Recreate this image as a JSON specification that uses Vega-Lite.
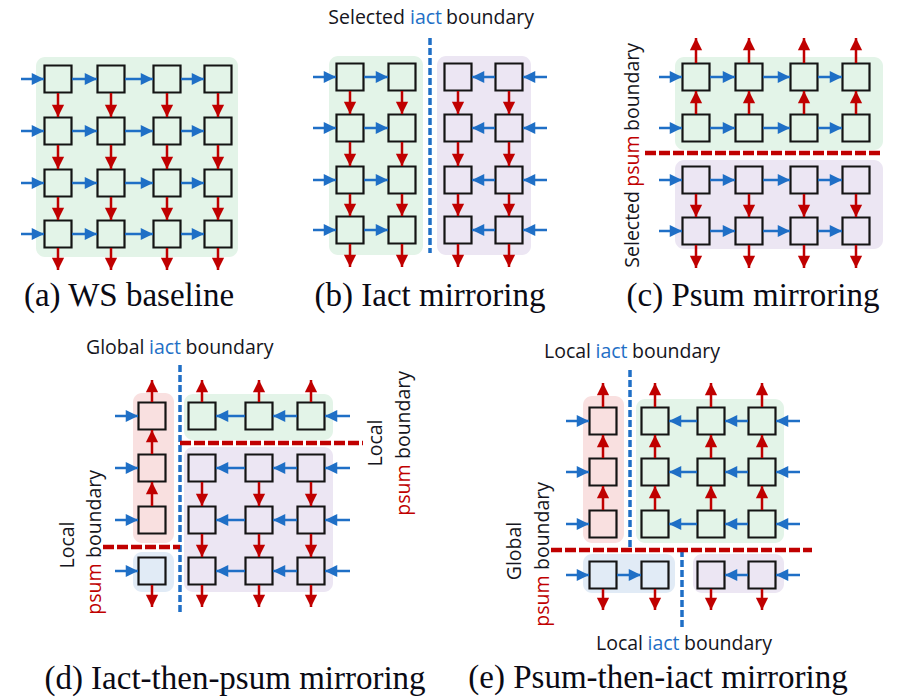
{
  "$schema": "https://vega.github.io/schema/vega-lite/v6.json",
  "width": 906,
  "height": 700,
  "autosize": {"type": "fit", "contains": "padding"},
  "padding": 0,
  "background": "white",
  "config": {"view": {"stroke": null}},
  "datasets": {
    "bg": [
      {"g": "bgG", "x": 36, "x2": 238, "y": 57, "y2": 257},
      {"g": "bgG", "x": 329, "x2": 423, "y": 56, "y2": 255},
      {"g": "bgP", "x": 437, "x2": 531, "y": 56, "y2": 255},
      {"g": "bgG", "x": 675, "x2": 883, "y": 57, "y2": 150},
      {"g": "bgP", "x": 675, "x2": 883, "y": 160, "y2": 249},
      {"g": "bgK", "x": 133, "x2": 174, "y": 393, "y2": 543},
      {"g": "bgB", "x": 133, "x2": 174, "y": 552, "y2": 592},
      {"g": "bgG", "x": 184, "x2": 333, "y": 394, "y2": 440},
      {"g": "bgP", "x": 184, "x2": 333, "y": 447, "y2": 592},
      {"g": "bgK", "x": 583, "x2": 624, "y": 396, "y2": 543},
      {"g": "bgG", "x": 636, "x2": 784, "y": 399, "y2": 543},
      {"g": "bgB", "x": 583, "x2": 675, "y": 554, "y2": 593},
      {"g": "bgP", "x": 693, "x2": 784, "y": 554, "y2": 593}
    ],
    "sq": [
      {"x": 58, "y": 79}, {"x": 111, "y": 79}, {"x": 167, "y": 79}, {"x": 218, "y": 79},
      {"x": 58, "y": 131}, {"x": 111, "y": 131}, {"x": 167, "y": 131}, {"x": 218, "y": 131},
      {"x": 58, "y": 183}, {"x": 111, "y": 183}, {"x": 167, "y": 183}, {"x": 218, "y": 183},
      {"x": 58, "y": 234}, {"x": 111, "y": 234}, {"x": 167, "y": 234}, {"x": 218, "y": 234},
      {"x": 350, "y": 77}, {"x": 402, "y": 77}, {"x": 458, "y": 77}, {"x": 509, "y": 77},
      {"x": 350, "y": 128}, {"x": 402, "y": 128}, {"x": 458, "y": 128}, {"x": 509, "y": 128},
      {"x": 350, "y": 180}, {"x": 402, "y": 180}, {"x": 458, "y": 180}, {"x": 509, "y": 180},
      {"x": 350, "y": 230}, {"x": 402, "y": 230}, {"x": 458, "y": 230}, {"x": 509, "y": 230},
      {"x": 696, "y": 77}, {"x": 749, "y": 77}, {"x": 804, "y": 77}, {"x": 856, "y": 77},
      {"x": 696, "y": 128}, {"x": 749, "y": 128}, {"x": 804, "y": 128}, {"x": 856, "y": 128},
      {"x": 696, "y": 180}, {"x": 749, "y": 180}, {"x": 804, "y": 180}, {"x": 856, "y": 180},
      {"x": 696, "y": 231}, {"x": 749, "y": 231}, {"x": 804, "y": 231}, {"x": 856, "y": 231},
      {"x": 152, "y": 416}, {"x": 202, "y": 416}, {"x": 259, "y": 416}, {"x": 311, "y": 416},
      {"x": 152, "y": 468}, {"x": 202, "y": 468}, {"x": 259, "y": 468}, {"x": 311, "y": 468},
      {"x": 152, "y": 520}, {"x": 202, "y": 520}, {"x": 259, "y": 520}, {"x": 311, "y": 520},
      {"x": 152, "y": 571}, {"x": 202, "y": 571}, {"x": 259, "y": 571}, {"x": 311, "y": 571},
      {"x": 603, "y": 421}, {"x": 655, "y": 421}, {"x": 711, "y": 421}, {"x": 762, "y": 421},
      {"x": 603, "y": 472}, {"x": 655, "y": 472}, {"x": 711, "y": 472}, {"x": 762, "y": 472},
      {"x": 603, "y": 524}, {"x": 655, "y": 524}, {"x": 711, "y": 524}, {"x": 762, "y": 524},
      {"x": 603, "y": 575}, {"x": 655, "y": 575}, {"x": 711, "y": 575}, {"x": 762, "y": 575}
    ],
    "arrows": [
      {"k": "blue", "d": "r", "x": 21, "y": 79, "x2": 44, "y2": 79},
      {"k": "blue", "d": "r", "x": 72, "y": 79, "x2": 97, "y2": 79},
      {"k": "blue", "d": "r", "x": 125, "y": 79, "x2": 153, "y2": 79},
      {"k": "blue", "d": "r", "x": 181, "y": 79, "x2": 204, "y2": 79},
      {"k": "blue", "d": "r", "x": 21, "y": 131, "x2": 44, "y2": 131},
      {"k": "blue", "d": "r", "x": 72, "y": 131, "x2": 97, "y2": 131},
      {"k": "blue", "d": "r", "x": 125, "y": 131, "x2": 153, "y2": 131},
      {"k": "blue", "d": "r", "x": 181, "y": 131, "x2": 204, "y2": 131},
      {"k": "blue", "d": "r", "x": 21, "y": 183, "x2": 44, "y2": 183},
      {"k": "blue", "d": "r", "x": 72, "y": 183, "x2": 97, "y2": 183},
      {"k": "blue", "d": "r", "x": 125, "y": 183, "x2": 153, "y2": 183},
      {"k": "blue", "d": "r", "x": 181, "y": 183, "x2": 204, "y2": 183},
      {"k": "blue", "d": "r", "x": 21, "y": 234, "x2": 44, "y2": 234},
      {"k": "blue", "d": "r", "x": 72, "y": 234, "x2": 97, "y2": 234},
      {"k": "blue", "d": "r", "x": 125, "y": 234, "x2": 153, "y2": 234},
      {"k": "blue", "d": "r", "x": 181, "y": 234, "x2": 204, "y2": 234},
      {"k": "red", "d": "d", "x": 58, "y": 93, "x2": 58, "y2": 117},
      {"k": "red", "d": "d", "x": 58, "y": 145, "x2": 58, "y2": 169},
      {"k": "red", "d": "d", "x": 58, "y": 197, "x2": 58, "y2": 220},
      {"k": "red", "d": "d", "x": 58, "y": 248, "x2": 58, "y2": 270},
      {"k": "red", "d": "d", "x": 111, "y": 93, "x2": 111, "y2": 117},
      {"k": "red", "d": "d", "x": 111, "y": 145, "x2": 111, "y2": 169},
      {"k": "red", "d": "d", "x": 111, "y": 197, "x2": 111, "y2": 220},
      {"k": "red", "d": "d", "x": 111, "y": 248, "x2": 111, "y2": 270},
      {"k": "red", "d": "d", "x": 167, "y": 93, "x2": 167, "y2": 117},
      {"k": "red", "d": "d", "x": 167, "y": 145, "x2": 167, "y2": 169},
      {"k": "red", "d": "d", "x": 167, "y": 197, "x2": 167, "y2": 220},
      {"k": "red", "d": "d", "x": 167, "y": 248, "x2": 167, "y2": 270},
      {"k": "red", "d": "d", "x": 218, "y": 93, "x2": 218, "y2": 117},
      {"k": "red", "d": "d", "x": 218, "y": 145, "x2": 218, "y2": 169},
      {"k": "red", "d": "d", "x": 218, "y": 197, "x2": 218, "y2": 220},
      {"k": "red", "d": "d", "x": 218, "y": 248, "x2": 218, "y2": 270},

      {"k": "blue", "d": "r", "x": 313, "y": 77, "x2": 336, "y2": 77},
      {"k": "blue", "d": "r", "x": 364, "y": 77, "x2": 388, "y2": 77},
      {"k": "blue", "d": "l", "x": 547, "y": 77, "x2": 523, "y2": 77},
      {"k": "blue", "d": "l", "x": 495, "y": 77, "x2": 472, "y2": 77},
      {"k": "blue", "d": "r", "x": 313, "y": 128, "x2": 336, "y2": 128},
      {"k": "blue", "d": "r", "x": 364, "y": 128, "x2": 388, "y2": 128},
      {"k": "blue", "d": "l", "x": 547, "y": 128, "x2": 523, "y2": 128},
      {"k": "blue", "d": "l", "x": 495, "y": 128, "x2": 472, "y2": 128},
      {"k": "blue", "d": "r", "x": 313, "y": 180, "x2": 336, "y2": 180},
      {"k": "blue", "d": "r", "x": 364, "y": 180, "x2": 388, "y2": 180},
      {"k": "blue", "d": "l", "x": 547, "y": 180, "x2": 523, "y2": 180},
      {"k": "blue", "d": "l", "x": 495, "y": 180, "x2": 472, "y2": 180},
      {"k": "blue", "d": "r", "x": 313, "y": 230, "x2": 336, "y2": 230},
      {"k": "blue", "d": "r", "x": 364, "y": 230, "x2": 388, "y2": 230},
      {"k": "blue", "d": "l", "x": 547, "y": 230, "x2": 523, "y2": 230},
      {"k": "blue", "d": "l", "x": 495, "y": 230, "x2": 472, "y2": 230},
      {"k": "red", "d": "d", "x": 350, "y": 91, "x2": 350, "y2": 114},
      {"k": "red", "d": "d", "x": 350, "y": 142, "x2": 350, "y2": 166},
      {"k": "red", "d": "d", "x": 350, "y": 194, "x2": 350, "y2": 216},
      {"k": "red", "d": "d", "x": 350, "y": 244, "x2": 350, "y2": 267},
      {"k": "red", "d": "d", "x": 402, "y": 91, "x2": 402, "y2": 114},
      {"k": "red", "d": "d", "x": 402, "y": 142, "x2": 402, "y2": 166},
      {"k": "red", "d": "d", "x": 402, "y": 194, "x2": 402, "y2": 216},
      {"k": "red", "d": "d", "x": 402, "y": 244, "x2": 402, "y2": 267},
      {"k": "red", "d": "d", "x": 458, "y": 91, "x2": 458, "y2": 114},
      {"k": "red", "d": "d", "x": 458, "y": 142, "x2": 458, "y2": 166},
      {"k": "red", "d": "d", "x": 458, "y": 194, "x2": 458, "y2": 216},
      {"k": "red", "d": "d", "x": 458, "y": 244, "x2": 458, "y2": 267},
      {"k": "red", "d": "d", "x": 509, "y": 91, "x2": 509, "y2": 114},
      {"k": "red", "d": "d", "x": 509, "y": 142, "x2": 509, "y2": 166},
      {"k": "red", "d": "d", "x": 509, "y": 194, "x2": 509, "y2": 216},
      {"k": "red", "d": "d", "x": 509, "y": 244, "x2": 509, "y2": 267},

      {"k": "blue", "d": "r", "x": 659, "y": 77, "x2": 682, "y2": 77},
      {"k": "blue", "d": "r", "x": 710, "y": 77, "x2": 735, "y2": 77},
      {"k": "blue", "d": "r", "x": 763, "y": 77, "x2": 790, "y2": 77},
      {"k": "blue", "d": "r", "x": 818, "y": 77, "x2": 842, "y2": 77},
      {"k": "blue", "d": "r", "x": 659, "y": 128, "x2": 682, "y2": 128},
      {"k": "blue", "d": "r", "x": 710, "y": 128, "x2": 735, "y2": 128},
      {"k": "blue", "d": "r", "x": 763, "y": 128, "x2": 790, "y2": 128},
      {"k": "blue", "d": "r", "x": 818, "y": 128, "x2": 842, "y2": 128},
      {"k": "blue", "d": "r", "x": 659, "y": 180, "x2": 682, "y2": 180},
      {"k": "blue", "d": "r", "x": 710, "y": 180, "x2": 735, "y2": 180},
      {"k": "blue", "d": "r", "x": 763, "y": 180, "x2": 790, "y2": 180},
      {"k": "blue", "d": "r", "x": 818, "y": 180, "x2": 842, "y2": 180},
      {"k": "blue", "d": "r", "x": 659, "y": 231, "x2": 682, "y2": 231},
      {"k": "blue", "d": "r", "x": 710, "y": 231, "x2": 735, "y2": 231},
      {"k": "blue", "d": "r", "x": 763, "y": 231, "x2": 790, "y2": 231},
      {"k": "blue", "d": "r", "x": 818, "y": 231, "x2": 842, "y2": 231},
      {"k": "red", "d": "u", "x": 696, "y": 63, "x2": 696, "y2": 38},
      {"k": "red", "d": "u", "x": 696, "y": 114, "x2": 696, "y2": 91},
      {"k": "red", "d": "d", "x": 696, "y": 194, "x2": 696, "y2": 217},
      {"k": "red", "d": "d", "x": 696, "y": 245, "x2": 696, "y2": 268},
      {"k": "red", "d": "u", "x": 749, "y": 63, "x2": 749, "y2": 38},
      {"k": "red", "d": "u", "x": 749, "y": 114, "x2": 749, "y2": 91},
      {"k": "red", "d": "d", "x": 749, "y": 194, "x2": 749, "y2": 217},
      {"k": "red", "d": "d", "x": 749, "y": 245, "x2": 749, "y2": 268},
      {"k": "red", "d": "u", "x": 804, "y": 63, "x2": 804, "y2": 38},
      {"k": "red", "d": "u", "x": 804, "y": 114, "x2": 804, "y2": 91},
      {"k": "red", "d": "d", "x": 804, "y": 194, "x2": 804, "y2": 217},
      {"k": "red", "d": "d", "x": 804, "y": 245, "x2": 804, "y2": 268},
      {"k": "red", "d": "u", "x": 856, "y": 63, "x2": 856, "y2": 38},
      {"k": "red", "d": "u", "x": 856, "y": 114, "x2": 856, "y2": 91},
      {"k": "red", "d": "d", "x": 856, "y": 194, "x2": 856, "y2": 217},
      {"k": "red", "d": "d", "x": 856, "y": 245, "x2": 856, "y2": 268},

      {"k": "blue", "d": "r", "x": 115, "y": 416, "x2": 138, "y2": 416},
      {"k": "blue", "d": "l", "x": 350, "y": 416, "x2": 325, "y2": 416},
      {"k": "blue", "d": "l", "x": 297, "y": 416, "x2": 273, "y2": 416},
      {"k": "blue", "d": "l", "x": 245, "y": 416, "x2": 216, "y2": 416},
      {"k": "blue", "d": "r", "x": 115, "y": 468, "x2": 138, "y2": 468},
      {"k": "blue", "d": "l", "x": 350, "y": 468, "x2": 325, "y2": 468},
      {"k": "blue", "d": "l", "x": 297, "y": 468, "x2": 273, "y2": 468},
      {"k": "blue", "d": "l", "x": 245, "y": 468, "x2": 216, "y2": 468},
      {"k": "blue", "d": "r", "x": 115, "y": 520, "x2": 138, "y2": 520},
      {"k": "blue", "d": "l", "x": 350, "y": 520, "x2": 325, "y2": 520},
      {"k": "blue", "d": "l", "x": 297, "y": 520, "x2": 273, "y2": 520},
      {"k": "blue", "d": "l", "x": 245, "y": 520, "x2": 216, "y2": 520},
      {"k": "blue", "d": "r", "x": 115, "y": 571, "x2": 138, "y2": 571},
      {"k": "blue", "d": "l", "x": 350, "y": 571, "x2": 325, "y2": 571},
      {"k": "blue", "d": "l", "x": 297, "y": 571, "x2": 273, "y2": 571},
      {"k": "blue", "d": "l", "x": 245, "y": 571, "x2": 216, "y2": 571},
      {"k": "red", "d": "u", "x": 152, "y": 402, "x2": 152, "y2": 380},
      {"k": "red", "d": "u", "x": 152, "y": 454, "x2": 152, "y2": 430},
      {"k": "red", "d": "u", "x": 152, "y": 506, "x2": 152, "y2": 482},
      {"k": "red", "d": "d", "x": 152, "y": 585, "x2": 152, "y2": 607},
      {"k": "red", "d": "u", "x": 202, "y": 402, "x2": 202, "y2": 380},
      {"k": "red", "d": "d", "x": 202, "y": 482, "x2": 202, "y2": 506},
      {"k": "red", "d": "d", "x": 202, "y": 534, "x2": 202, "y2": 557},
      {"k": "red", "d": "d", "x": 202, "y": 585, "x2": 202, "y2": 607},
      {"k": "red", "d": "u", "x": 259, "y": 402, "x2": 259, "y2": 380},
      {"k": "red", "d": "d", "x": 259, "y": 482, "x2": 259, "y2": 506},
      {"k": "red", "d": "d", "x": 259, "y": 534, "x2": 259, "y2": 557},
      {"k": "red", "d": "d", "x": 259, "y": 585, "x2": 259, "y2": 607},
      {"k": "red", "d": "u", "x": 311, "y": 402, "x2": 311, "y2": 380},
      {"k": "red", "d": "d", "x": 311, "y": 482, "x2": 311, "y2": 506},
      {"k": "red", "d": "d", "x": 311, "y": 534, "x2": 311, "y2": 557},
      {"k": "red", "d": "d", "x": 311, "y": 585, "x2": 311, "y2": 607},

      {"k": "blue", "d": "r", "x": 566, "y": 421, "x2": 589, "y2": 421},
      {"k": "blue", "d": "l", "x": 800, "y": 421, "x2": 776, "y2": 421},
      {"k": "blue", "d": "l", "x": 748, "y": 421, "x2": 725, "y2": 421},
      {"k": "blue", "d": "l", "x": 697, "y": 421, "x2": 669, "y2": 421},
      {"k": "blue", "d": "r", "x": 566, "y": 472, "x2": 589, "y2": 472},
      {"k": "blue", "d": "l", "x": 800, "y": 472, "x2": 776, "y2": 472},
      {"k": "blue", "d": "l", "x": 748, "y": 472, "x2": 725, "y2": 472},
      {"k": "blue", "d": "l", "x": 697, "y": 472, "x2": 669, "y2": 472},
      {"k": "blue", "d": "r", "x": 566, "y": 524, "x2": 589, "y2": 524},
      {"k": "blue", "d": "l", "x": 800, "y": 524, "x2": 776, "y2": 524},
      {"k": "blue", "d": "l", "x": 748, "y": 524, "x2": 725, "y2": 524},
      {"k": "blue", "d": "l", "x": 697, "y": 524, "x2": 669, "y2": 524},
      {"k": "blue", "d": "r", "x": 566, "y": 575, "x2": 589, "y2": 575},
      {"k": "blue", "d": "r", "x": 617, "y": 575, "x2": 641, "y2": 575},
      {"k": "blue", "d": "l", "x": 800, "y": 575, "x2": 776, "y2": 575},
      {"k": "blue", "d": "l", "x": 748, "y": 575, "x2": 725, "y2": 575},
      {"k": "red", "d": "u", "x": 603, "y": 407, "x2": 603, "y2": 383},
      {"k": "red", "d": "u", "x": 603, "y": 458, "x2": 603, "y2": 435},
      {"k": "red", "d": "u", "x": 603, "y": 510, "x2": 603, "y2": 486},
      {"k": "red", "d": "d", "x": 603, "y": 589, "x2": 603, "y2": 610},
      {"k": "red", "d": "u", "x": 655, "y": 407, "x2": 655, "y2": 383},
      {"k": "red", "d": "u", "x": 655, "y": 458, "x2": 655, "y2": 435},
      {"k": "red", "d": "u", "x": 655, "y": 510, "x2": 655, "y2": 486},
      {"k": "red", "d": "d", "x": 655, "y": 589, "x2": 655, "y2": 610},
      {"k": "red", "d": "u", "x": 711, "y": 407, "x2": 711, "y2": 383},
      {"k": "red", "d": "u", "x": 711, "y": 458, "x2": 711, "y2": 435},
      {"k": "red", "d": "u", "x": 711, "y": 510, "x2": 711, "y2": 486},
      {"k": "red", "d": "d", "x": 711, "y": 589, "x2": 711, "y2": 610},
      {"k": "red", "d": "u", "x": 762, "y": 407, "x2": 762, "y2": 383},
      {"k": "red", "d": "u", "x": 762, "y": 458, "x2": 762, "y2": 435},
      {"k": "red", "d": "u", "x": 762, "y": 510, "x2": 762, "y2": 486},
      {"k": "red", "d": "d", "x": 762, "y": 589, "x2": 762, "y2": 610}
    ],
    "dashes": [
      {"k": "blue", "x": 430, "y": 38, "x2": 430, "y2": 253},
      {"k": "red", "x": 645, "y": 153, "x2": 883, "y2": 153},
      {"k": "blue", "x": 180, "y": 365, "x2": 180, "y2": 612},
      {"k": "red", "x": 180, "y": 443, "x2": 363, "y2": 443},
      {"k": "red", "x": 103, "y": 547, "x2": 180, "y2": 547},
      {"k": "blue", "x": 630, "y": 370, "x2": 630, "y2": 552},
      {"k": "red", "x": 551, "y": 550, "x2": 812, "y2": 550},
      {"k": "blue", "x": 682, "y": 550, "x2": 682, "y2": 628}
    ],
    "labels": [
      {"t": "Selected", "c": "ink", "o": "h", "a": "r", "x": 405, "y": 18},
      {"t": "iact", "c": "blue", "o": "h", "a": "c", "x": 426, "y": 18},
      {"t": "boundary", "c": "ink", "o": "h", "a": "l", "x": 446, "y": 18},
      {"t": "Global", "c": "ink", "o": "h", "a": "r", "x": 144.5, "y": 348},
      {"t": "iact", "c": "blue", "o": "h", "a": "c", "x": 165, "y": 348},
      {"t": "boundary", "c": "ink", "o": "h", "a": "l", "x": 185.5, "y": 348},
      {"t": "Local", "c": "ink", "o": "h", "a": "r", "x": 591, "y": 352},
      {"t": "iact", "c": "blue", "o": "h", "a": "c", "x": 611.5, "y": 352},
      {"t": "boundary", "c": "ink", "o": "h", "a": "l", "x": 632, "y": 352},
      {"t": "Local", "c": "ink", "o": "h", "a": "r", "x": 643, "y": 644},
      {"t": "iact", "c": "blue", "o": "h", "a": "c", "x": 663.5, "y": 644},
      {"t": "boundary", "c": "ink", "o": "h", "a": "l", "x": 684, "y": 644},
      {"t": "Selected", "c": "ink", "o": "v", "a": "r", "x": 633, "y": 191},
      {"t": "psum", "c": "red", "o": "v", "a": "c", "x": 633, "y": 161},
      {"t": "boundary", "c": "ink", "o": "v", "a": "l", "x": 633, "y": 131},
      {"t": "Local", "c": "ink", "o": "v", "a": "c", "x": 376, "y": 443},
      {"t": "psum", "c": "red", "o": "v", "a": "c", "x": 403.5, "y": 490},
      {"t": "boundary", "c": "ink", "o": "v", "a": "l", "x": 403.5, "y": 459},
      {"t": "Local", "c": "ink", "o": "v", "a": "c", "x": 67.5, "y": 545},
      {"t": "psum", "c": "red", "o": "v", "a": "c", "x": 95, "y": 589},
      {"t": "boundary", "c": "ink", "o": "v", "a": "l", "x": 95, "y": 558},
      {"t": "Global", "c": "ink", "o": "v", "a": "c", "x": 515, "y": 551},
      {"t": "psum", "c": "red", "o": "v", "a": "c", "x": 542.5, "y": 601},
      {"t": "boundary", "c": "ink", "o": "v", "a": "l", "x": 542.5, "y": 570}
    ],
    "captions": [
      {"t": "(a) WS baseline", "x": 129, "y": 306},
      {"t": "(b) Iact mirroring", "x": 430, "y": 306},
      {"t": "(c) Psum mirroring", "x": 753, "y": 306},
      {"t": "(d) Iact-then-psum mirroring", "x": 235, "y": 689},
      {"t": "(e) Psum-then-iact mirroring", "x": 658, "y": 688}
    ]
  },
  "encoding": {
    "x": {"field": "x", "type": "quantitative", "axis": null, "scale": {"domain": [0, 906], "nice": false, "zero": false}},
    "y": {"field": "y", "type": "quantitative", "axis": null, "scale": {"domain": [0, 700], "nice": false, "zero": false, "reverse": true}}
  },
  "layer": [
    {
      "data": {"name": "bg"},
      "mark": {"type": "rect", "cornerRadius": 9},
      "encoding": {
        "x2": {"field": "x2"},
        "y2": {"field": "y2"},
        "color": {"field": "g", "type": "nominal", "legend": null,
          "scale": {"domain": ["bgG", "bgP", "bgK", "bgB", "blue", "red", "ink"], "range": ["#e3f4e8", "#ece6f3", "#f9e0e0", "#e1ebf6", "#1f6fc6", "#c00000", "#151520"]}}
      }
    },
    {
      "data": {"name": "sq"},
      "mark": {"type": "point", "shape": "square", "size": 729, "filled": false, "color": "#141414", "strokeWidth": 2.2, "opacity": 1}
    },
    {
      "data": {"name": "arrows"},
      "mark": {"type": "rule", "strokeWidth": 2.5, "strokeCap": "butt"},
      "encoding": {
        "x2": {"field": "x2"},
        "y2": {"field": "y2"},
        "color": {"field": "k", "type": "nominal", "legend": null,
          "scale": {"domain": ["bgG", "bgP", "bgK", "bgB", "blue", "red", "ink"], "range": ["#e3f4e8", "#ece6f3", "#f9e0e0", "#e1ebf6", "#1f6fc6", "#c00000", "#151520"]}}
      }
    },
    {
      "data": {"name": "arrows"},
      "transform": [{"filter": "datum.d == 'r'"}],
      "mark": {"type": "point", "shape": "M0,0L-1,-0.5L-1,0.5Z", "filled": true, "size": 600, "opacity": 1, "angle": 0},
      "encoding": {
        "x": {"field": "x2", "type": "quantitative"},
        "y": {"field": "y2", "type": "quantitative"},
        "color": {"field": "k", "type": "nominal", "legend": null,
          "scale": {"domain": ["bgG", "bgP", "bgK", "bgB", "blue", "red", "ink"], "range": ["#e3f4e8", "#ece6f3", "#f9e0e0", "#e1ebf6", "#1f6fc6", "#c00000", "#151520"]}}
      }
    },
    {
      "data": {"name": "arrows"},
      "transform": [{"filter": "datum.d == 'l'"}],
      "mark": {"type": "point", "shape": "M0,0L-1,-0.5L-1,0.5Z", "filled": true, "size": 600, "opacity": 1, "angle": 180},
      "encoding": {
        "x": {"field": "x2", "type": "quantitative"},
        "y": {"field": "y2", "type": "quantitative"},
        "color": {"field": "k", "type": "nominal", "legend": null,
          "scale": {"domain": ["bgG", "bgP", "bgK", "bgB", "blue", "red", "ink"], "range": ["#e3f4e8", "#ece6f3", "#f9e0e0", "#e1ebf6", "#1f6fc6", "#c00000", "#151520"]}}
      }
    },
    {
      "data": {"name": "arrows"},
      "transform": [{"filter": "datum.d == 'd'"}],
      "mark": {"type": "point", "shape": "M0,0L-1,-0.5L-1,0.5Z", "filled": true, "size": 600, "opacity": 1, "angle": 90},
      "encoding": {
        "x": {"field": "x2", "type": "quantitative"},
        "y": {"field": "y2", "type": "quantitative"},
        "color": {"field": "k", "type": "nominal", "legend": null,
          "scale": {"domain": ["bgG", "bgP", "bgK", "bgB", "blue", "red", "ink"], "range": ["#e3f4e8", "#ece6f3", "#f9e0e0", "#e1ebf6", "#1f6fc6", "#c00000", "#151520"]}}
      }
    },
    {
      "data": {"name": "arrows"},
      "transform": [{"filter": "datum.d == 'u'"}],
      "mark": {"type": "point", "shape": "M0,0L-1,-0.5L-1,0.5Z", "filled": true, "size": 600, "opacity": 1, "angle": 270},
      "encoding": {
        "x": {"field": "x2", "type": "quantitative"},
        "y": {"field": "y2", "type": "quantitative"},
        "color": {"field": "k", "type": "nominal", "legend": null,
          "scale": {"domain": ["bgG", "bgP", "bgK", "bgB", "blue", "red", "ink"], "range": ["#e3f4e8", "#ece6f3", "#f9e0e0", "#e1ebf6", "#1f6fc6", "#c00000", "#151520"]}}
      }
    },
    {
      "data": {"name": "dashes"},
      "transform": [{"filter": "datum.k == 'blue'"}],
      "mark": {"type": "rule", "strokeWidth": 3.5, "strokeDash": [7, 3], "strokeCap": "butt"},
      "encoding": {
        "x2": {"field": "x2"},
        "y2": {"field": "y2"},
        "color": {"field": "k", "type": "nominal", "legend": null,
          "scale": {"domain": ["bgG", "bgP", "bgK", "bgB", "blue", "red", "ink"], "range": ["#e3f4e8", "#ece6f3", "#f9e0e0", "#e1ebf6", "#1f6fc6", "#c00000", "#151520"]}}
      }
    },
    {
      "data": {"name": "dashes"},
      "transform": [{"filter": "datum.k == 'red'"}],
      "mark": {"type": "rule", "strokeWidth": 4.5, "strokeDash": [11, 3], "strokeCap": "butt"},
      "encoding": {
        "x2": {"field": "x2"},
        "y2": {"field": "y2"},
        "color": {"field": "k", "type": "nominal", "legend": null,
          "scale": {"domain": ["bgG", "bgP", "bgK", "bgB", "blue", "red", "ink"], "range": ["#e3f4e8", "#ece6f3", "#f9e0e0", "#e1ebf6", "#1f6fc6", "#c00000", "#151520"]}}
      }
    },
    {
      "data": {"name": "labels"},
      "transform": [{"filter": "datum.o == 'h' && datum.a == 'r'"}],
      "mark": {"type": "text", "align": "right", "baseline": "middle", "font": "Open Sans", "fontSize": 19.5},
      "encoding": {
        "text": {"field": "t"},
        "color": {"field": "c", "type": "nominal", "legend": null,
          "scale": {"domain": ["bgG", "bgP", "bgK", "bgB", "blue", "red", "ink"], "range": ["#e3f4e8", "#ece6f3", "#f9e0e0", "#e1ebf6", "#1f6fc6", "#c00000", "#151520"]}}
      }
    },
    {
      "data": {"name": "labels"},
      "transform": [{"filter": "datum.o == 'h' && datum.a == 'c'"}],
      "mark": {"type": "text", "align": "center", "baseline": "middle", "font": "Open Sans", "fontSize": 19.5},
      "encoding": {
        "text": {"field": "t"},
        "color": {"field": "c", "type": "nominal", "legend": null,
          "scale": {"domain": ["bgG", "bgP", "bgK", "bgB", "blue", "red", "ink"], "range": ["#e3f4e8", "#ece6f3", "#f9e0e0", "#e1ebf6", "#1f6fc6", "#c00000", "#151520"]}}
      }
    },
    {
      "data": {"name": "labels"},
      "transform": [{"filter": "datum.o == 'h' && datum.a == 'l'"}],
      "mark": {"type": "text", "align": "left", "baseline": "middle", "font": "Open Sans", "fontSize": 19.5},
      "encoding": {
        "text": {"field": "t"},
        "color": {"field": "c", "type": "nominal", "legend": null,
          "scale": {"domain": ["bgG", "bgP", "bgK", "bgB", "blue", "red", "ink"], "range": ["#e3f4e8", "#ece6f3", "#f9e0e0", "#e1ebf6", "#1f6fc6", "#c00000", "#151520"]}}
      }
    },
    {
      "data": {"name": "labels"},
      "transform": [{"filter": "datum.o == 'v' && datum.a == 'r'"}],
      "mark": {"type": "text", "angle": 270, "align": "right", "baseline": "middle", "font": "Open Sans", "fontSize": 19.5},
      "encoding": {
        "text": {"field": "t"},
        "color": {"field": "c", "type": "nominal", "legend": null,
          "scale": {"domain": ["bgG", "bgP", "bgK", "bgB", "blue", "red", "ink"], "range": ["#e3f4e8", "#ece6f3", "#f9e0e0", "#e1ebf6", "#1f6fc6", "#c00000", "#151520"]}}
      }
    },
    {
      "data": {"name": "labels"},
      "transform": [{"filter": "datum.o == 'v' && datum.a == 'c'"}],
      "mark": {"type": "text", "angle": 270, "align": "center", "baseline": "middle", "font": "Open Sans", "fontSize": 19.5},
      "encoding": {
        "text": {"field": "t"},
        "color": {"field": "c", "type": "nominal", "legend": null,
          "scale": {"domain": ["bgG", "bgP", "bgK", "bgB", "blue", "red", "ink"], "range": ["#e3f4e8", "#ece6f3", "#f9e0e0", "#e1ebf6", "#1f6fc6", "#c00000", "#151520"]}}
      }
    },
    {
      "data": {"name": "labels"},
      "transform": [{"filter": "datum.o == 'v' && datum.a == 'l'"}],
      "mark": {"type": "text", "angle": 270, "align": "left", "baseline": "middle", "font": "Open Sans", "fontSize": 19.5},
      "encoding": {
        "text": {"field": "t"},
        "color": {"field": "c", "type": "nominal", "legend": null,
          "scale": {"domain": ["bgG", "bgP", "bgK", "bgB", "blue", "red", "ink"], "range": ["#e3f4e8", "#ece6f3", "#f9e0e0", "#e1ebf6", "#1f6fc6", "#c00000", "#151520"]}}
      }
    },
    {
      "data": {"name": "captions"},
      "mark": {"type": "text", "align": "center", "baseline": "alphabetic", "font": "Liberation Serif", "fontSize": 33, "color": "#0a0a14"},
      "encoding": {"text": {"field": "t"}}
    }
  ]
}
